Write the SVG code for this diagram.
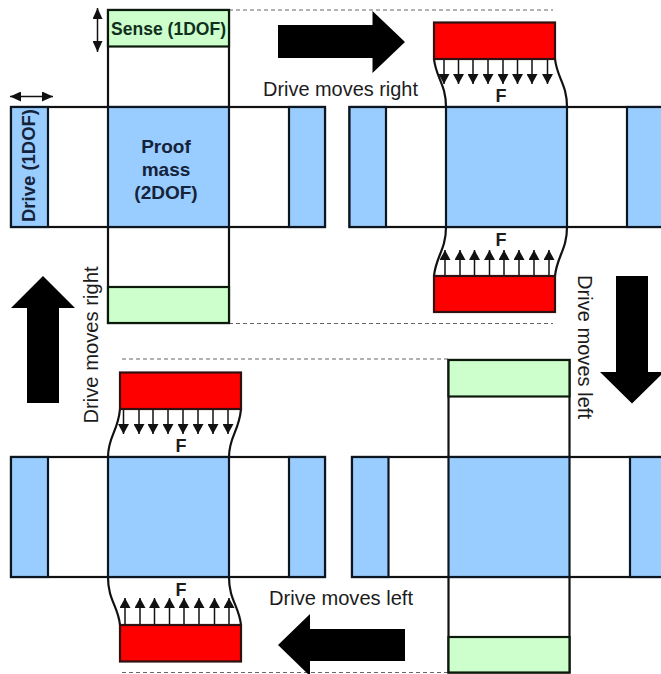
<svg xmlns="http://www.w3.org/2000/svg" width="661" height="674" viewBox="0 0 661 674">
<style>
.b{fill:#99ccff;stroke:#0c1620;stroke-width:2.2}
.g{fill:#ccffcc;stroke:#0c1a0c;stroke-width:2.2}
.r{fill:#ff0000;stroke:#301010;stroke-width:2.2}
.w{fill:#fff;stroke:#111;stroke-width:2.2}
.c{fill:none;stroke:#111;stroke-width:2.2}
.d{fill:none;stroke:#666;stroke-width:1.2;stroke-dasharray:4 3}
.a{fill:none;stroke:#111;stroke-width:1.5;marker-end:url(#h)}
.s{fill:none;stroke:#111;stroke-width:1.5;marker-start:url(#h2);marker-end:url(#h2)}
.big{fill:#000}
text{font-family:"Liberation Sans",Arial,sans-serif;fill:#1c1c1c}
.l{font-size:19.500px}
.t{font-size:19px;font-weight:bold;text-anchor:middle;fill:#14233a}
.f{font-size:18px;font-weight:bold;text-anchor:middle}
</style>
<defs>
<marker id="h" markerUnits="userSpaceOnUse" markerWidth="10" markerHeight="11" refX="10" refY="5.500" orient="auto" viewBox="0 0 10 11"><path d="M0 0L10 5.500L0 11Z" fill="#111"/></marker>
<marker id="h2" markerUnits="userSpaceOnUse" markerWidth="11" markerHeight="10" refX="11" refY="5" orient="auto-start-reverse" viewBox="0 0 11 10"><path d="M0 0L11 5L0 10Z" fill="#111"/></marker>
</defs>
<rect width="661" height="674" fill="#fff"/>

<g id="connectors">
<path class="d" d="M229 10H553M229 323.500H553M122 359H448M122 672.500H448"/>
<path class="s" d="M97.500 8V52"/>
<path class="s" d="M10 96.500H53"/>
<path class="c" d="M434 59C436 78 446 84 446 107M555 59C557 78 567 84 567 107M446 227C446 250 436 256 434 276M567 227C567 250 557 256 555 276"/>
<path class="c" d="M120 409C118 432 108 436 108 457M241 409C239 432 229 436 229 457M108 577C108 600 118 606 120 625M229 577C229 600 239 606 241 625"/>
<g id="forces-top-right">
<path class="a" d="M444 59V84"/><path class="a" d="M458.500 59V84"/><path class="a" d="M473 59V84"/><path class="a" d="M488 59V84"/><path class="a" d="M503 59V84"/><path class="a" d="M517.500 59V84"/><path class="a" d="M532 59V84"/><path class="a" d="M547.500 59V84"/>
<path class="a" d="M445 276V250"/><path class="a" d="M460 276V250"/><path class="a" d="M474.500 276V250"/><path class="a" d="M489.500 276V250"/><path class="a" d="M504 276V250"/><path class="a" d="M519 276V250"/><path class="a" d="M534 276V250"/><path class="a" d="M549 276V250"/>
</g>
<g id="forces-bottom-left">
<path class="a" d="M123.500 409V434"/><path class="a" d="M139 409V434"/><path class="a" d="M153 409V434"/><path class="a" d="M168 409V434"/><path class="a" d="M183 409V434"/><path class="a" d="M198 409V434"/><path class="a" d="M213 409V434"/><path class="a" d="M228 409V434"/>
<path class="a" d="M125 625V598"/><path class="a" d="M140 625V598"/><path class="a" d="M154.500 625V598"/><path class="a" d="M169.500 625V598"/><path class="a" d="M184 625V598"/><path class="a" d="M199 625V598"/><path class="a" d="M214.500 625V598"/><path class="a" d="M229 625V598"/>
</g>
</g>

<g id="node-top-left">
<rect class="w" x="108" y="10" width="121" height="313"/>
<rect class="g" x="108" y="10" width="121" height="36.500"/>
<rect class="g" x="108" y="287" width="121" height="36"/>
<rect class="w" x="11" y="107" width="314" height="120"/>
<rect class="b" x="11" y="107" width="37" height="120"/>
<rect class="b" x="289" y="107" width="36" height="120"/>
<rect class="b" x="108" y="107" width="121" height="120"/>
<text class="t" x="168.500" y="35" textLength="115" lengthAdjust="spacingAndGlyphs" style="fill:#10301c">Sense (1DOF)</text>
<text class="t" transform="translate(35 165.500) rotate(-90)" textLength="113" lengthAdjust="spacingAndGlyphs">Drive (1DOF)</text>
<text class="t" x="166" y="153">Proof</text>
<text class="t" x="166" y="176">mass</text>
<text class="t" x="166" y="199">(2DOF)</text>
</g>

<g id="node-top-right">
<rect class="w" x="349.500" y="107" width="313" height="120"/>
<rect class="b" x="349.500" y="107" width="36.500" height="120"/>
<rect class="b" x="627" y="107" width="36" height="120"/>
<rect class="b" x="446" y="107" width="121" height="120"/>
<rect class="r" x="434" y="22.500" width="121" height="36.500"/>
<rect class="r" x="434" y="276" width="121" height="36"/>
<text class="f" x="501" y="102">F</text>
<text class="f" x="501" y="246">F</text>
</g>

<g id="node-bottom-left">
<rect class="w" x="11" y="457" width="314" height="120"/>
<rect class="b" x="11" y="457" width="37" height="120"/>
<rect class="b" x="289" y="457" width="36" height="120"/>
<rect class="b" x="108" y="457" width="121" height="120"/>
<rect class="r" x="120" y="372.500" width="121" height="36.500"/>
<rect class="r" x="120" y="625" width="121" height="36.500"/>
<text class="f" x="181" y="452">F</text>
<text class="f" x="181" y="596">F</text>
</g>

<g id="node-bottom-right">
<rect class="w" x="448.500" y="360" width="121" height="312.500"/>
<rect class="g" x="448.500" y="360" width="121" height="36.500"/>
<rect class="g" x="448.500" y="637" width="121" height="35.500"/>
<rect class="w" x="352" y="457" width="311" height="120"/>
<rect class="b" x="352" y="457" width="36.500" height="120"/>
<rect class="b" x="630" y="457" width="33" height="120"/>
<rect class="b" x="448.500" y="457" width="121" height="120"/>
</g>

<g id="motion-arrows">
<path class="big" d="M278 25H372.500V11L405 42L372.500 73V58H278Z"/>
<path class="big" d="M616 276H648V372H664L632 403.500L600 372H616Z"/>
<path class="big" d="M27 403V308H11L43 276L75 308H59V403Z"/>
<path class="big" d="M405 629V661H310V676L278 645L310 614V629Z"/>
<text class="l" x="263" y="96" textLength="155" lengthAdjust="spacingAndGlyphs">Drive moves right</text>
<text class="l" x="269" y="604.500" textLength="144" lengthAdjust="spacingAndGlyphs">Drive moves left</text>
<text class="l" transform="translate(98 423.500) rotate(-90)" textLength="157" lengthAdjust="spacingAndGlyphs">Drive moves right</text>
<text class="l" transform="translate(578 275) rotate(90)" textLength="144" lengthAdjust="spacingAndGlyphs">Drive moves left</text>
</g>
</svg>
